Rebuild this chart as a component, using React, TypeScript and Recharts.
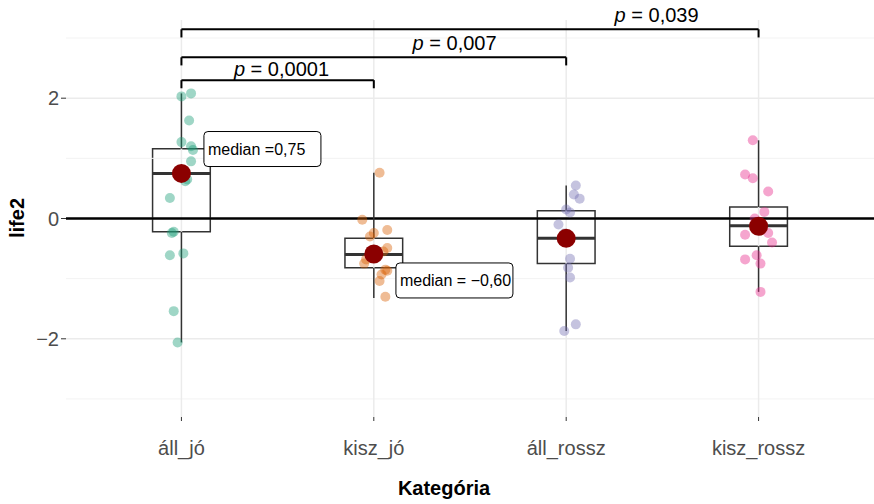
import React from 'react';
import { ComposedChart, Scatter, XAxis, YAxis, ReferenceLine, ReferenceArea, ReferenceDot } from 'recharts';

// categories and colours
const categories = ['áll_jó', 'kisz_jó', 'áll_rossz', 'kisz_rossz'];
const groupColors = ['#1B9E77', '#D95F02', '#7570B3', '#E7298A'];

// jittered observations (value + horizontal jitter offset)
const allJoValues = [2.03, 2.08, 1.63, 1.27, 1.2, 1.14, 0.95, 0.65, 0.62, 0.34, -0.22, -0.24, -0.58, -0.61, -1.54, -2.06];
const allJoJitter = [0.0, 0.05, 0.04, 0.0, 0.05, 0.06, 0.05, 0.03, 0.02, -0.06, -0.04, -0.05, 0.01, -0.06, -0.04, -0.02];
const kiszJoValues = [0.76, -0.02, -0.19, -0.24, -0.3, -0.49, -0.55, -0.68, -0.75, -0.85, -0.87, -0.93, -1.04, -1.3];
const kiszJoJitter = [0.03, -0.06, 0.07, 0.0, -0.02, 0.07, 0.05, -0.04, -0.05, 0.06, 0.07, 0.04, 0.03, 0.06];
const allRosszValues = [0.55, 0.4, 0.33, 0.15, 0.1, -0.1, -0.25, -0.67, -0.82, -0.98, -1.76, -1.87];
const allRosszJitter = [0.05, 0.04, 0.07, 0.0, 0.02, -0.04, -0.01, 0.02, 0.01, 0.02, 0.05, -0.01];
const kiszRosszValues = [1.3, 0.73, 0.67, 0.45, 0.11, 0.0, -0.24, -0.27, -0.4, -0.61, -0.68, -0.75, -1.22];
const kiszRosszJitter = [-0.03, -0.07, -0.03, 0.05, 0.03, -0.02, 0.05, -0.07, 0.07, -0.01, -0.07, 0.01, 0.01];

// boxplot stats
const q1 = [-0.22, -0.82, -0.75, -0.46];
const medians = [0.75, -0.6, -0.33, -0.12];
const q3 = [1.16, -0.33, 0.13, 0.19];
const whiskerLow = [-2.06, -1.32, -1.87, -1.22];
const whiskerHigh = [2.08, 0.76, 0.55, 1.3];
const means = [0.75, -0.59, -0.33, -0.13];

// median labels
const medianLabelText = ['median =0,75', 'median = −0,60'];
const medianLabelX = [1.117, 2.115];
const medianLabelY = [1.155, -1.03];

// significance brackets
const bracketFrom = [1, 1, 1];
const bracketTo = [2, 3, 4];
const bracketY = [2.3, 2.68, 3.145];
const bracketTip = 0.135;
const pValues = ['0,0001', '0,007', '0,039'];
const pLabelX = [1.52, 2.42, 3.47];
const pLabelY = [2.37, 2.8, 3.27];

const gridMajor = [-2, 0, 2];
const gridMinor = [-3, -1, 1, 3];
const xTicks = [1, 2, 3, 4];

const groups = [
    [allJoValues, allJoJitter],
    [kiszJoValues, kiszJoJitter],
    [allRosszValues, allRosszJitter],
    [kiszRosszValues, kiszRosszJitter],
];

const pointData = groups.map(([vals, jit], g) => vals.map((y, i) => ({ x: g + 1 + jit[i], y })));
const meanData = means.map((y, i) => ({ x: i + 1, y }));

const BOX_HALF = 0.15;
const tickStyle = { fill: '#4d4d4d', fontSize: 20 };

const fmtY = (v: number) => (v < 0 ? '\u2212' + Math.abs(v) : String(v));

export default function App() {
    return (
        <div style={{ position: 'absolute', left: 0, top: 0, background: '#fff' }}>
            <ComposedChart
                width={874}
                height={504}
                margin={{ top: 20, right: 0, bottom: 0, left: 0 }}
                style={{ fontFamily: '"Liberation Sans", Arial, sans-serif' }}
            >
                <XAxis
                    type="number"
                    dataKey="x"
                    domain={[0.4, 4.6]}
                    ticks={xTicks}
                    interval={0}
                    tickFormatter={(v: number) => categories[v - 1]}
                    axisLine={false}
                    tickLine={{ stroke: '#333' }}
                    tickSize={4}
                    tickMargin={20}
                    height={87}
                    tick={tickStyle}
                    allowDataOverflow
                />
                <YAxis
                    type="number"
                    dataKey="y"
                    domain={[-3.3, 3.3]}
                    ticks={gridMajor}
                    tickFormatter={fmtY}
                    axisLine={false}
                    tickLine={{ stroke: '#333' }}
                    tickSize={5}
                    tickMargin={2}
                    width={66}
                    tick={tickStyle}
                    allowDataOverflow
                />

                {gridMinor.map((v) => (
                    <ReferenceLine key={'mi' + v} y={v} stroke="#f3f3f3" strokeWidth={1} />
                ))}
                {gridMajor.map((v) => (
                    <ReferenceLine key={'ma' + v} y={v} stroke="#ebebeb" strokeWidth={1.5} />
                ))}
                {xTicks.map((v) => (
                    <ReferenceLine key={'vx' + v} x={v} stroke="#ebebeb" strokeWidth={1.5} />
                ))}

                {pointData.map((d, g) => (
                    <Scatter
                        key={'pts' + g}
                        data={d}
                        isAnimationActive={false}
                        shape={(p: any) => <circle cx={p.cx} cy={p.cy} r={5} fill={groupColors[g]} fillOpacity={0.42} />}
                    />
                ))}

                <ReferenceLine y={0} stroke="#000" strokeWidth={2.5} />

                {categories.map((c, i) => (
                    <ReferenceArea
                        key={'box' + c}
                        x1={i + 1 - BOX_HALF}
                        x2={i + 1 + BOX_HALF}
                        y1={q1[i]}
                        y2={q3[i]}
                        fill="none"
                        fillOpacity={0}
                        stroke="#333"
                        strokeWidth={1.5}
                        strokeOpacity={1}
                    />
                ))}
                {categories.map((c, i) => (
                    <ReferenceLine
                        key={'wu' + c}
                        segment={[{ x: i + 1, y: q3[i] }, { x: i + 1, y: whiskerHigh[i] }]}
                        stroke="#333"
                        strokeWidth={1.5}
                    />
                ))}
                {categories.map((c, i) => (
                    <ReferenceLine
                        key={'wl' + c}
                        segment={[{ x: i + 1, y: q1[i] }, { x: i + 1, y: whiskerLow[i] }]}
                        stroke="#333"
                        strokeWidth={1.5}
                    />
                ))}
                {categories.map((c, i) => (
                    <ReferenceLine
                        key={'md' + c}
                        segment={[{ x: i + 1 - BOX_HALF, y: medians[i] }, { x: i + 1 + BOX_HALF, y: medians[i] }]}
                        stroke="#333"
                        strokeWidth={3}
                    />
                ))}

                <Scatter
                    data={meanData}
                    isAnimationActive={false}
                    shape={(p: any) => <circle cx={p.cx} cy={p.cy} r={9.5} fill="#8B0000" />}
                />

                {medianLabelText.map((t, i) => (
                    <ReferenceDot
                        key={'ml' + i}
                        x={medianLabelX[i]}
                        y={medianLabelY[i]}
                        r={1}
                        shape={(p: any) => (
                            <g>
                                <rect x={p.cx} y={p.cy - 17.5} width={117} height={35} rx={4} fill="#fff" stroke="#000" strokeWidth={1} />
                                <text x={p.cx + 4} y={p.cy + 6} fontSize={16} fill="#000">{t}</text>
                            </g>
                        )}
                    />
                ))}

                {pValues.map((pv, i) => (
                    <ReferenceLine
                        key={'bh' + i}
                        segment={[{ x: bracketFrom[i], y: bracketY[i] }, { x: bracketTo[i], y: bracketY[i] }]}
                        stroke="#000"
                        strokeWidth={2}
                    />
                ))}
                {pValues.map((pv, i) => (
                    <ReferenceLine
                        key={'bl' + i}
                        segment={[{ x: bracketFrom[i], y: bracketY[i] }, { x: bracketFrom[i], y: bracketY[i] - bracketTip }]}
                        stroke="#000"
                        strokeWidth={2}
                    />
                ))}
                {pValues.map((pv, i) => (
                    <ReferenceLine
                        key={'br' + i}
                        segment={[{ x: bracketTo[i], y: bracketY[i] }, { x: bracketTo[i], y: bracketY[i] - bracketTip }]}
                        stroke="#000"
                        strokeWidth={2}
                    />
                ))}
                {pValues.map((pv, i) => (
                    <ReferenceDot
                        key={'pl' + i}
                        x={pLabelX[i]}
                        y={pLabelY[i]}
                        r={1}
                        shape={(p: any) => (
                            <text x={p.cx} y={p.cy} fontSize={20} fill="#000" textAnchor="middle">
                                <tspan fontStyle="italic">p</tspan> = {pv}
                            </text>
                        )}
                    />
                ))}

                <text x={24} y={218} transform="rotate(-90 24 218)" textAnchor="middle" fontSize={20} fontWeight="bold" fill="#000">
                    life2
                </text>
                <text x={444} y={495} textAnchor="middle" fontSize={20} fontWeight="bold" fill="#000">
                    Kategória
                </text>
            </ComposedChart>
        </div>
    );
}
